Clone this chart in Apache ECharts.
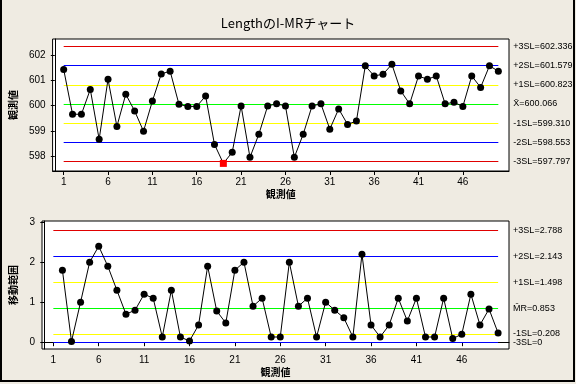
<!DOCTYPE html>
<html><head><meta charset="utf-8">
<script src="https://cdn.jsdelivr.net/npm/echarts@6/dist/echarts.min.js"></script>
<style>html,body{margin:0;padding:0;background:#efebe2}#c{width:576px;height:384px}</style>
</head><body><div id="c"></div>
<script>
const observations = [1,2,3,4,5,6,7,8,9,10,11,12,13,14,15,16,17,18,19,20,21,22,23,24,25,26,27,28,29,30,31,32,33,34,35,36,37,38,39,40,41,42,43,44,45,46,47,48,49,50];
const iValues = [601.43,599.66,599.66,600.64,598.67,601.04,599.18,600.45,599.79,598.99,
  600.18,601.25,601.36,600.05,599.97,599.97,600.38,598.47,597.72,598.16,
  599.99,597.96,598.87,599.99,600.07,599.99,597.96,598.87,599.99,600.07,
  599.07,599.87,599.26,599.39,601.57,601.17,601.24,601.63,600.58,600.07,
  601.17,601.04,601.17,600.07,600.13,599.97,601.17,600.72,601.57,601.36];
const mrValues = [null,1.80,0.02,1.0,2.0,2.4,1.9,1.3,0.7,0.8,1.2,
  1.1,0.13,1.3,0.13,0.03,0.43,1.9,0.78,0.48,1.8,
  2.0,0.9,1.1,0.13,0.13,2.0,0.9,1.1,0.13,1.0,
  0.8,0.61,0.13,2.2,0.43,0.13,0.43,1.1,0.53,1.1,
  0.13,0.13,1.1,0.09,0.2,1.2,0.43,0.83,0.23];
const outOfControl = [19];
const xTicks = [1,6,11,16,21,26,31,36,41,46];
const iTicks = [598,599,600,601,602];
const mrTicks = [0,1,2,3];
const iLimitValues = [602.336,601.579,600.823,600.066,599.310,598.553,597.797];
const iLimitLabels = ['+3SL=602.336','+2SL=601.579','+1SL=600.823','X̄=600.066','-1SL=599.310','-2SL=598.553','-3SL=597.797'];
const mrLimitValues = [2.788,2.143,1.498,0.853,0.208,0];
const mrLimitLabels = ['+3SL=2.788','+2SL=2.143','+1SL=1.498','M̄R=0.853','-1SL=0.208','-3SL=0'];
const iLimitColors = ['#e00000','#0000ff','#ffff00','#00ff00','#ffff00','#0000ff','#e00000'];
const mrLimitColors = ['#e00000','#0000ff','#ffff00','#00ff00','#ffff00','#0000ff'];

const FONT = 'Liberation Sans';
const JP = 'Noto Sans CJK JP';
const first = observations[0], last = observations[observations.length-1];

function limitLines(vals, labels, colors) {
  return {
    silent: true, symbol: 'none', animation: false,
    data: vals.map((v, i) => [
      {coord: [first, v], lineStyle: {color: colors[i], width: 1, type: 'solid'},
       label: {show: true, position: 'end', distance: 15, formatter: labels[i], color: '#000', fontSize: 9, fontFamily: FONT}},
      {coord: [last, v]}
    ])
  };
}
function xAxisCfg(gi) {
  return {
    type: 'value', gridIndex: gi, min: -0.25, max: 51.2,
    name: '観測値', nameLocation: 'middle', nameGap: 18,
    nameTextStyle: {fontFamily: JP, fontWeight: 'bold', fontSize: 10, color: '#000'},
    axisLine: {show: true, lineStyle: {color: '#000'}},
    axisTick: {show: true, length: 4, customValues: xTicks, lineStyle: {color: '#000'}},
    axisLabel: {customValues: xTicks, margin: 6, fontSize: 10, fontFamily: FONT, color: '#000'},
    splitLine: {show: false}
  };
}
function yAxisCfg(gi, min, max, ticks, name, gap) {
  return {
    type: 'value', gridIndex: gi, min: min, max: max,
    name: name, nameLocation: 'middle', nameGap: gap, nameRotate: 90,
    nameTextStyle: {fontFamily: JP, fontWeight: 'bold', fontSize: 10, color: '#000'},
    axisLine: {show: true, lineStyle: {color: '#000'}},
    axisTick: {show: true, length: 4, customValues: ticks, lineStyle: {color: '#000'}},
    axisLabel: {customValues: ticks, margin: 7, fontSize: 10, fontFamily: FONT, color: '#000'},
    splitLine: {show: false}
  };
}

const iData = observations.map((o, i) => {
  if (outOfControl.includes(o)) {
    return {value: [o, iValues[i]], symbol: 'rect', symbolSize: 7, itemStyle: {color: '#ff0000'}};
  }
  return [o, iValues[i]];
});
const mrData = observations.map((o, i) => [o, mrValues[i]]).filter(p => p[1] !== null);

const chart = echarts.init(document.getElementById('c'), null, {renderer: 'canvas'});
chart.setOption({
  animation: false,
  backgroundColor: '#efebe2',
  title: {text: 'LengthのI-MRチャート', left: 'center', top: 12,
    textStyle: {fontFamily: JP, fontWeight: 'normal', fontSize: 13, color: '#000'}},
  graphic: [{type: 'rect', shape: {x: 1, y: -2, width: 573, height: 383},
    style: {fill: 'none', stroke: '#000', lineWidth: 2}, silent: true}],
  grid: [
    {left: 42, top: 39, width: 467, height: 132, show: true, backgroundColor: '#fff', borderColor: '#000', borderWidth: 1},
    {left: 42, top: 221, width: 467, height: 128, show: true, backgroundColor: '#fff', borderColor: '#000', borderWidth: 1}
  ],
  xAxis: [xAxisCfg(0), xAxisCfg(1)],
  yAxis: [
    yAxisCfg(0, 597.42, 602.63, iTicks, '観測値', 23),
    yAxisCfg(1, -0.17, 3.03, mrTicks, '移動範囲', 16)
  ],
  series: [
    {type: 'line', xAxisIndex: 0, yAxisIndex: 0, data: iData, symbol: 'circle', symbolSize: 7,
     itemStyle: {color: '#000'}, lineStyle: {color: '#000', width: 1}, z: 5,
     markLine: limitLines(iLimitValues, iLimitLabels, iLimitColors)},
    {type: 'line', xAxisIndex: 1, yAxisIndex: 1, data: mrData, symbol: 'circle', symbolSize: 7,
     itemStyle: {color: '#000'}, lineStyle: {color: '#000', width: 1}, z: 5,
     markLine: limitLines(mrLimitValues, mrLimitLabels, mrLimitColors)}
  ]
});
</script></body></html>
